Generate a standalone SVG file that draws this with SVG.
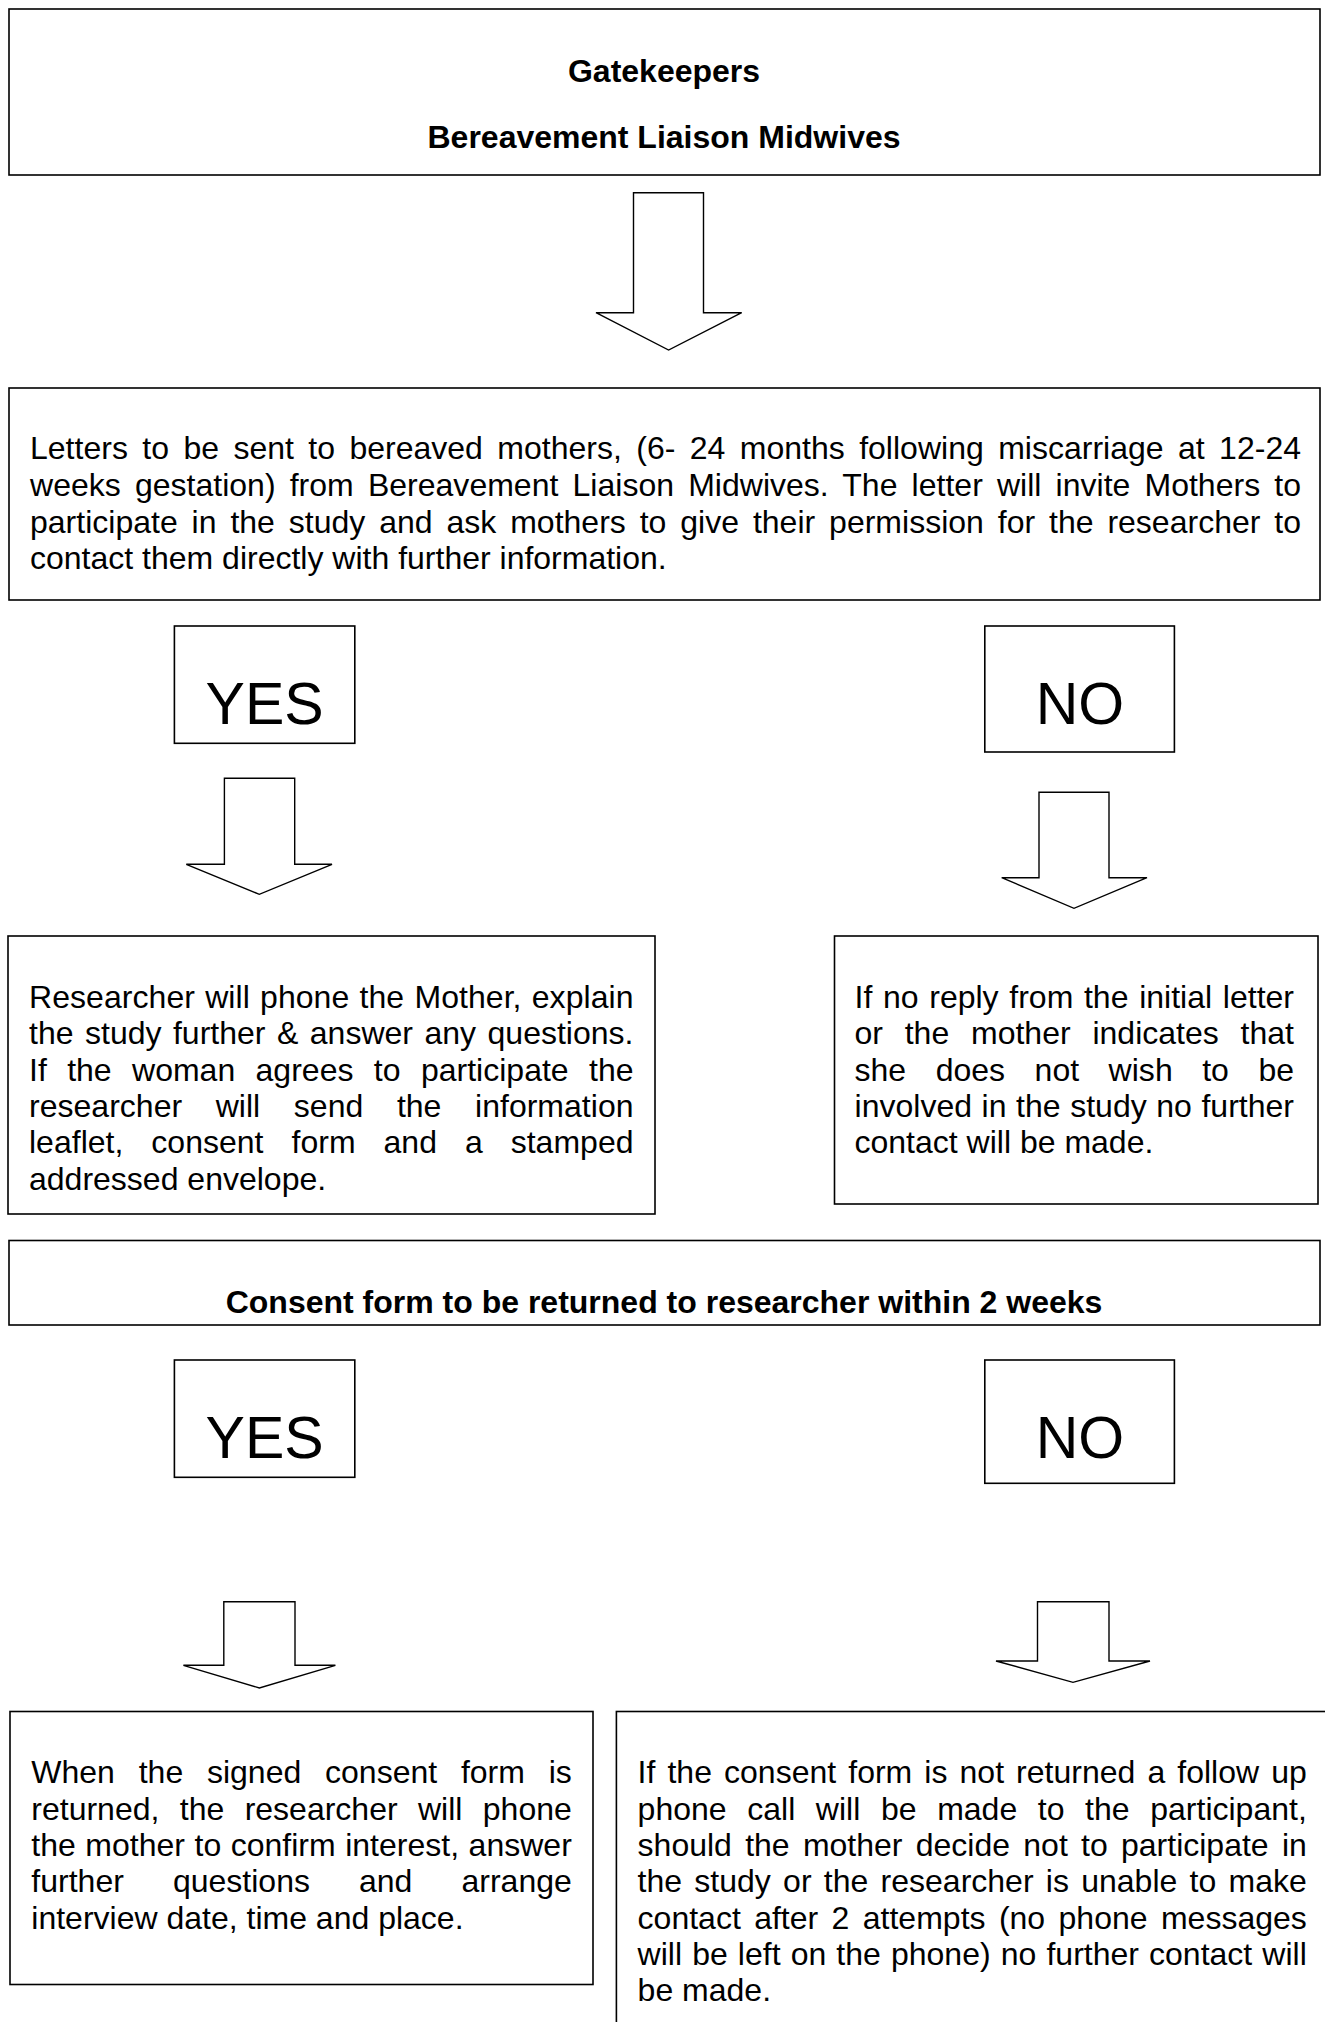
<svg xmlns="http://www.w3.org/2000/svg" width="1325" height="2022" viewBox="0 0 1325 2022">
<style>
.box{fill:#fff;stroke:#000;stroke-width:1.6}
.arr{fill:#fff;stroke:#000;stroke-width:1.4;stroke-linejoin:miter}
text{font-family:"Liberation Sans",Arial,sans-serif;fill:#000}
.b{font-size:32px;font-weight:bold;text-anchor:middle}
.t{font-size:32px}
.big{font-size:59px;text-anchor:middle}
</style>
<rect width="1325" height="2022" fill="#fff"/>
<g id="connectors">
<polygon class="arr" points="633.5,192.7 703.5,192.7 703.5,312.7 741.7,312.7 668.6,350 596,312.7 633.5,312.7"/>
<polygon class="arr" points="224.4,778.3 294.7,778.3 294.7,864.3 332,864.3 259.3,894.3 186.3,864.3 224.4,864.3"/>
<polygon class="arr" points="1039,792.3 1109,792.3 1109,877.7 1147,877.7 1074,908.3 1001.7,877.7 1039,877.7"/>
<polygon class="arr" points="223.8,1601.7 295,1601.7 295,1665.3 335.4,1665.3 259.4,1688 183.4,1665.3 223.8,1665.3"/>
<polygon class="arr" points="1037.5,1601.7 1109,1601.7 1109,1661 1150,1661 1073,1682.3 996,1661 1037.5,1661"/>
</g>
<g id="gatekeepers">
<rect class="box" x="9" y="9" width="1311" height="166"/>
<text class="b" x="664" y="82">Gatekeepers</text>
<text class="b" x="664" y="148">Bereavement Liaison Midwives</text>
</g>
<g id="letters">
<rect class="box" x="9" y="388" width="1311" height="212"/>
<text class="t" x="30" y="459.3" word-spacing="5.48" textLength="1271" lengthAdjust="spacing">Letters to be sent to bereaved mothers, (6- 24 months following miscarriage at 12-24</text>
<text class="t" x="30" y="496" word-spacing="5.2" textLength="1271" lengthAdjust="spacing">weeks gestation) from Bereavement Liaison Midwives. The letter will invite Mothers to</text>
<text class="t" x="30" y="532.7" word-spacing="4.96" textLength="1271" lengthAdjust="spacing">participate in the study and ask mothers to give their permission for the researcher to</text>
<text class="t" x="30" y="569.4">contact them directly with further information.</text>
</g>
<g id="yes1">
<rect class="box" x="174.4" y="626" width="180.4" height="117.3"/>
<text class="big" x="264.6" y="724">YES</text>
</g>
<g id="no1">
<rect class="box" x="984.8" y="626" width="189.6" height="126"/>
<text class="big" x="1080" y="724">NO</text>
</g>
<g id="researcher-phone">
<rect class="box" x="8" y="936" width="647" height="278"/>
<text class="t" x="29" y="1008" word-spacing="1.28" textLength="604.5" lengthAdjust="spacing">Researcher will phone the Mother, explain</text>
<text class="t" x="29" y="1044.3" word-spacing="2.55" textLength="604.5" lengthAdjust="spacing">the study further &amp; answer any questions.</text>
<text class="t" x="29" y="1080.6" word-spacing="11.43" textLength="604.5" lengthAdjust="spacing">If the woman agrees to participate the</text>
<text class="t" x="29" y="1116.9" word-spacing="24.7" textLength="604.5" lengthAdjust="spacing">researcher will send the information</text>
<text class="t" x="29" y="1153.2" word-spacing="19.06" textLength="604.5" lengthAdjust="spacing">leaflet, consent form and a stamped</text>
<text class="t" x="29" y="1189.5">addressed envelope.</text>
</g>
<g id="no-reply">
<rect class="box" x="834.5" y="936" width="483.5" height="268"/>
<text class="t" x="854.5" y="1008" word-spacing="1.73" textLength="439.5" lengthAdjust="spacing">If no reply from the initial letter</text>
<text class="t" x="854.5" y="1044.3" word-spacing="12.8" textLength="439.5" lengthAdjust="spacing">or the mother indicates that</text>
<text class="t" x="854.5" y="1080.6" word-spacing="20.56" textLength="439.5" lengthAdjust="spacing">she does not wish to be</text>
<text class="t" x="854.5" y="1116.9" word-spacing="0.64" textLength="439.5" lengthAdjust="spacing">involved in the study no further</text>
<text class="t" x="854.5" y="1153.2">contact will be made.</text>
</g>
<g id="consent">
<rect class="box" x="9" y="1240.5" width="1311" height="84.5"/>
<text class="b" x="664" y="1312.7">Consent form to be returned to researcher within 2 weeks</text>
</g>
<g id="yes2">
<rect class="box" x="174.4" y="1360" width="180.4" height="117.3"/>
<text class="big" x="264.6" y="1458.3">YES</text>
</g>
<g id="no2">
<rect class="box" x="984.8" y="1360" width="189.6" height="123.3"/>
<text class="big" x="1080" y="1458.3">NO</text>
</g>
<g id="signed-consent">
<rect class="box" x="10" y="1711.5" width="583" height="273"/>
<text class="t" x="31.3" y="1783.3" word-spacing="14.84" textLength="540.5" lengthAdjust="spacing">When the signed consent form is</text>
<text class="t" x="31.3" y="1819.6" word-spacing="11.45" textLength="540.5" lengthAdjust="spacing">returned, the researcher will phone</text>
<text class="t" x="31.3" y="1855.9" word-spacing="0.62" textLength="540.5" lengthAdjust="spacing">the mother to confirm interest, answer</text>
<text class="t" x="31.3" y="1892.2" word-spacing="40.1" textLength="540.5" lengthAdjust="spacing">further questions and arrange</text>
<text class="t" x="31.3" y="1928.5">interview date, time and place.</text>
</g>
<g id="not-returned">
<rect class="box" x="616.4" y="1711.5" width="720" height="330"/>
<text class="t" x="637.6" y="1783.3" word-spacing="3.18" textLength="669.2" lengthAdjust="spacing">If the consent form is not returned a follow up</text>
<text class="t" x="637.6" y="1819.6" word-spacing="11.71" textLength="669.2" lengthAdjust="spacing">phone call will be made to the participant,</text>
<text class="t" x="637.6" y="1855.9" word-spacing="4.33" textLength="669.2" lengthAdjust="spacing">should the mother decide not to participate in</text>
<text class="t" x="637.6" y="1892.2" word-spacing="3.35" textLength="669.2" lengthAdjust="spacing">the study or the researcher is unable to make</text>
<text class="t" x="637.6" y="1928.5" word-spacing="4.47" textLength="669.2" lengthAdjust="spacing">contact after 2 attempts (no phone messages</text>
<text class="t" x="637.6" y="1964.8" word-spacing="1.2" textLength="669.2" lengthAdjust="spacing">will be left on the phone) no further contact will</text>
<text class="t" x="637.6" y="2001.1">be made.</text>
</g>
</svg>
